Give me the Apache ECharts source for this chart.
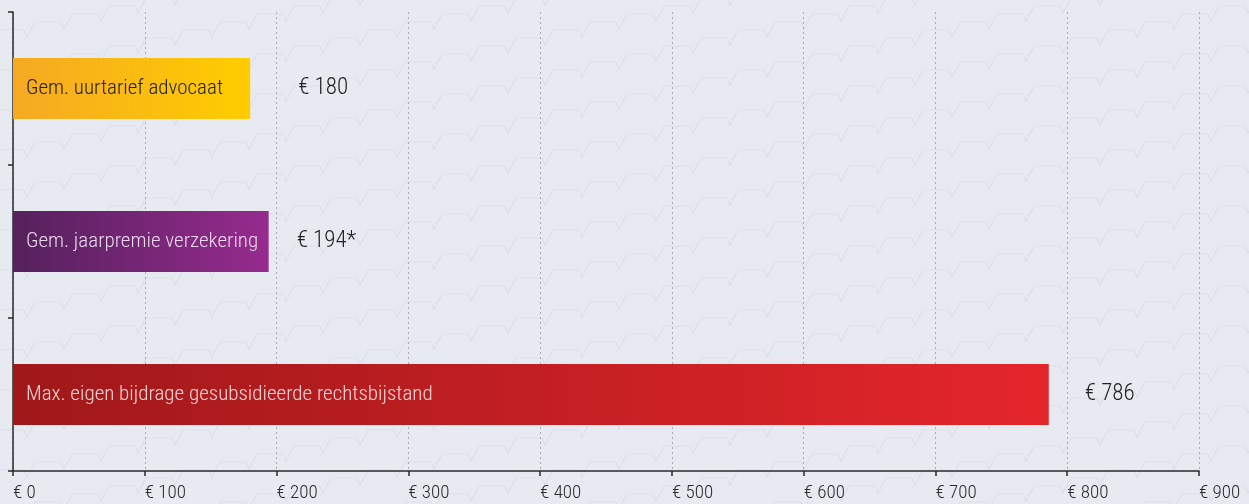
<!DOCTYPE html>
<html lang="nl">
<head>
  <meta charset="UTF-8">
  <title>chart</title>
  <style>
    body { margin: 0; }
    #main { width: 1249px; height: 504px; background-color: #e8eaf2; }
  </style>
</head>
<body>
<div id="main"></div>
<script src="https://cdn.jsdelivr.net/npm/echarts@6/dist/echarts.min.js"></script>
<script>
var categories = ['Gem. uurtarief advocaat', 'Gem. jaarpremie verzekering', 'Max. eigen bijdrage gesubsidieerde rechtsbijstand'];
var values = [180, 194, 786];
var valueLabels = ['€ 180', '€ 194*', '€ 786'];

var FONT = '"Roboto Condensed", "Liberation Sans Narrow", "DejaVu Sans Condensed", sans-serif';

// faint zigzag background, drawn once into a tile
function zigzagTile() {
  var P = 37, W = P * 5, H = 40;
  var c = document.createElement('canvas');
  c.width = W; c.height = H;
  var ctx = c.getContext('2d');
  ctx.fillStyle = '#e8eaf2';
  ctx.fillRect(0, 0, W, H);
  ctx.strokeStyle = '#dcdfe9';
  ctx.lineWidth = 1.2;
  for (var k = -1; k <= 2; k++) {
    var y = 30 + k * H;
    ctx.beginPath();
    ctx.moveTo(0, y);
    for (var i = 0; i < 5; i++) {
      var x = i * P;
      ctx.lineTo(x + 24, y);
      ctx.lineTo(x + 27, y + 7);
      ctx.lineTo(x + 35, y - 8);
      ctx.lineTo(x + P, y - 8);
      y -= 8;
    }
    ctx.stroke();
  }
  return c.toDataURL();
}
document.getElementById('main').style.backgroundImage = 'url(' + zigzagTile() + ')';

var gradients = [
  ['#f5a923', '#ffcd00'],
  ['#55215c', '#962b8e'],
  ['#a0181a', '#e4262b']
];
var insideColors = ['#222222', '#e8d8ea', '#f3d6d6'];
var valueDistance = [48, 28, 36];

var myChart = echarts.init(document.getElementById('main'));

myChart.setOption({
  backgroundColor: 'transparent',
  animation: false,
  grid: { left: 13, right: 50, top: 12, bottom: 33 },
  xAxis: {
    type: 'value',
    min: 0,
    max: 900,
    interval: 100,
    axisLine: { show: true, lineStyle: { color: '#2a2a2a', width: 1.5 } },
    axisTick: { show: true, length: 5, lineStyle: { color: '#2a2a2a', width: 1.5 } },
    axisLabel: {
      formatter: function (v) { return '€ ' + v; },
      align: 'left',
      margin: 13,
      fontSize: 19,
      fontWeight: 300,
      fontFamily: FONT,
      color: '#2a2a2a'
    },
    splitLine: { show: true, lineStyle: { color: '#a8acb8', type: [2, 3], width: 1 } }
  },
  yAxis: {
    type: 'category',
    inverse: true,
    data: categories,
    axisLine: { show: true, lineStyle: { color: '#2a2a2a', width: 1.5 } },
    axisTick: { show: true, length: 5, lineStyle: { color: '#2a2a2a', width: 1.5 } },
    axisLabel: { show: false }
  },
  series: [
    {
      type: 'bar',
      barWidth: '40%',
      data: values.map(function (v, i) {
        return {
          value: v,
          itemStyle: {
            color: new echarts.graphic.LinearGradient(0, 0, 1, 0, [
              { offset: 0, color: gradients[i][0] },
              { offset: 1, color: gradients[i][1] }
            ])
          },
          label: { color: insideColors[i] }
        };
      }),
      label: {
        show: true,
        position: 'insideLeft',
        distance: 13,
        formatter: '{b}',
        fontSize: 21,
        fontWeight: 300,
        fontFamily: FONT
      }
    },
    {
      type: 'bar',
      barWidth: '40%',
      barGap: '-100%',
      silent: true,
      itemStyle: { color: 'transparent' },
      data: values.map(function (v, i) {
        return { value: v, label: { distance: valueDistance[i] } };
      }),
      label: {
        show: true,
        position: 'right',
        formatter: function (p) { return valueLabels[p.dataIndex]; },
        fontSize: 23,
        fontWeight: 300,
        fontFamily: FONT,
        color: '#222222'
      }
    }
  ]
});
</script>
</body>
</html>
